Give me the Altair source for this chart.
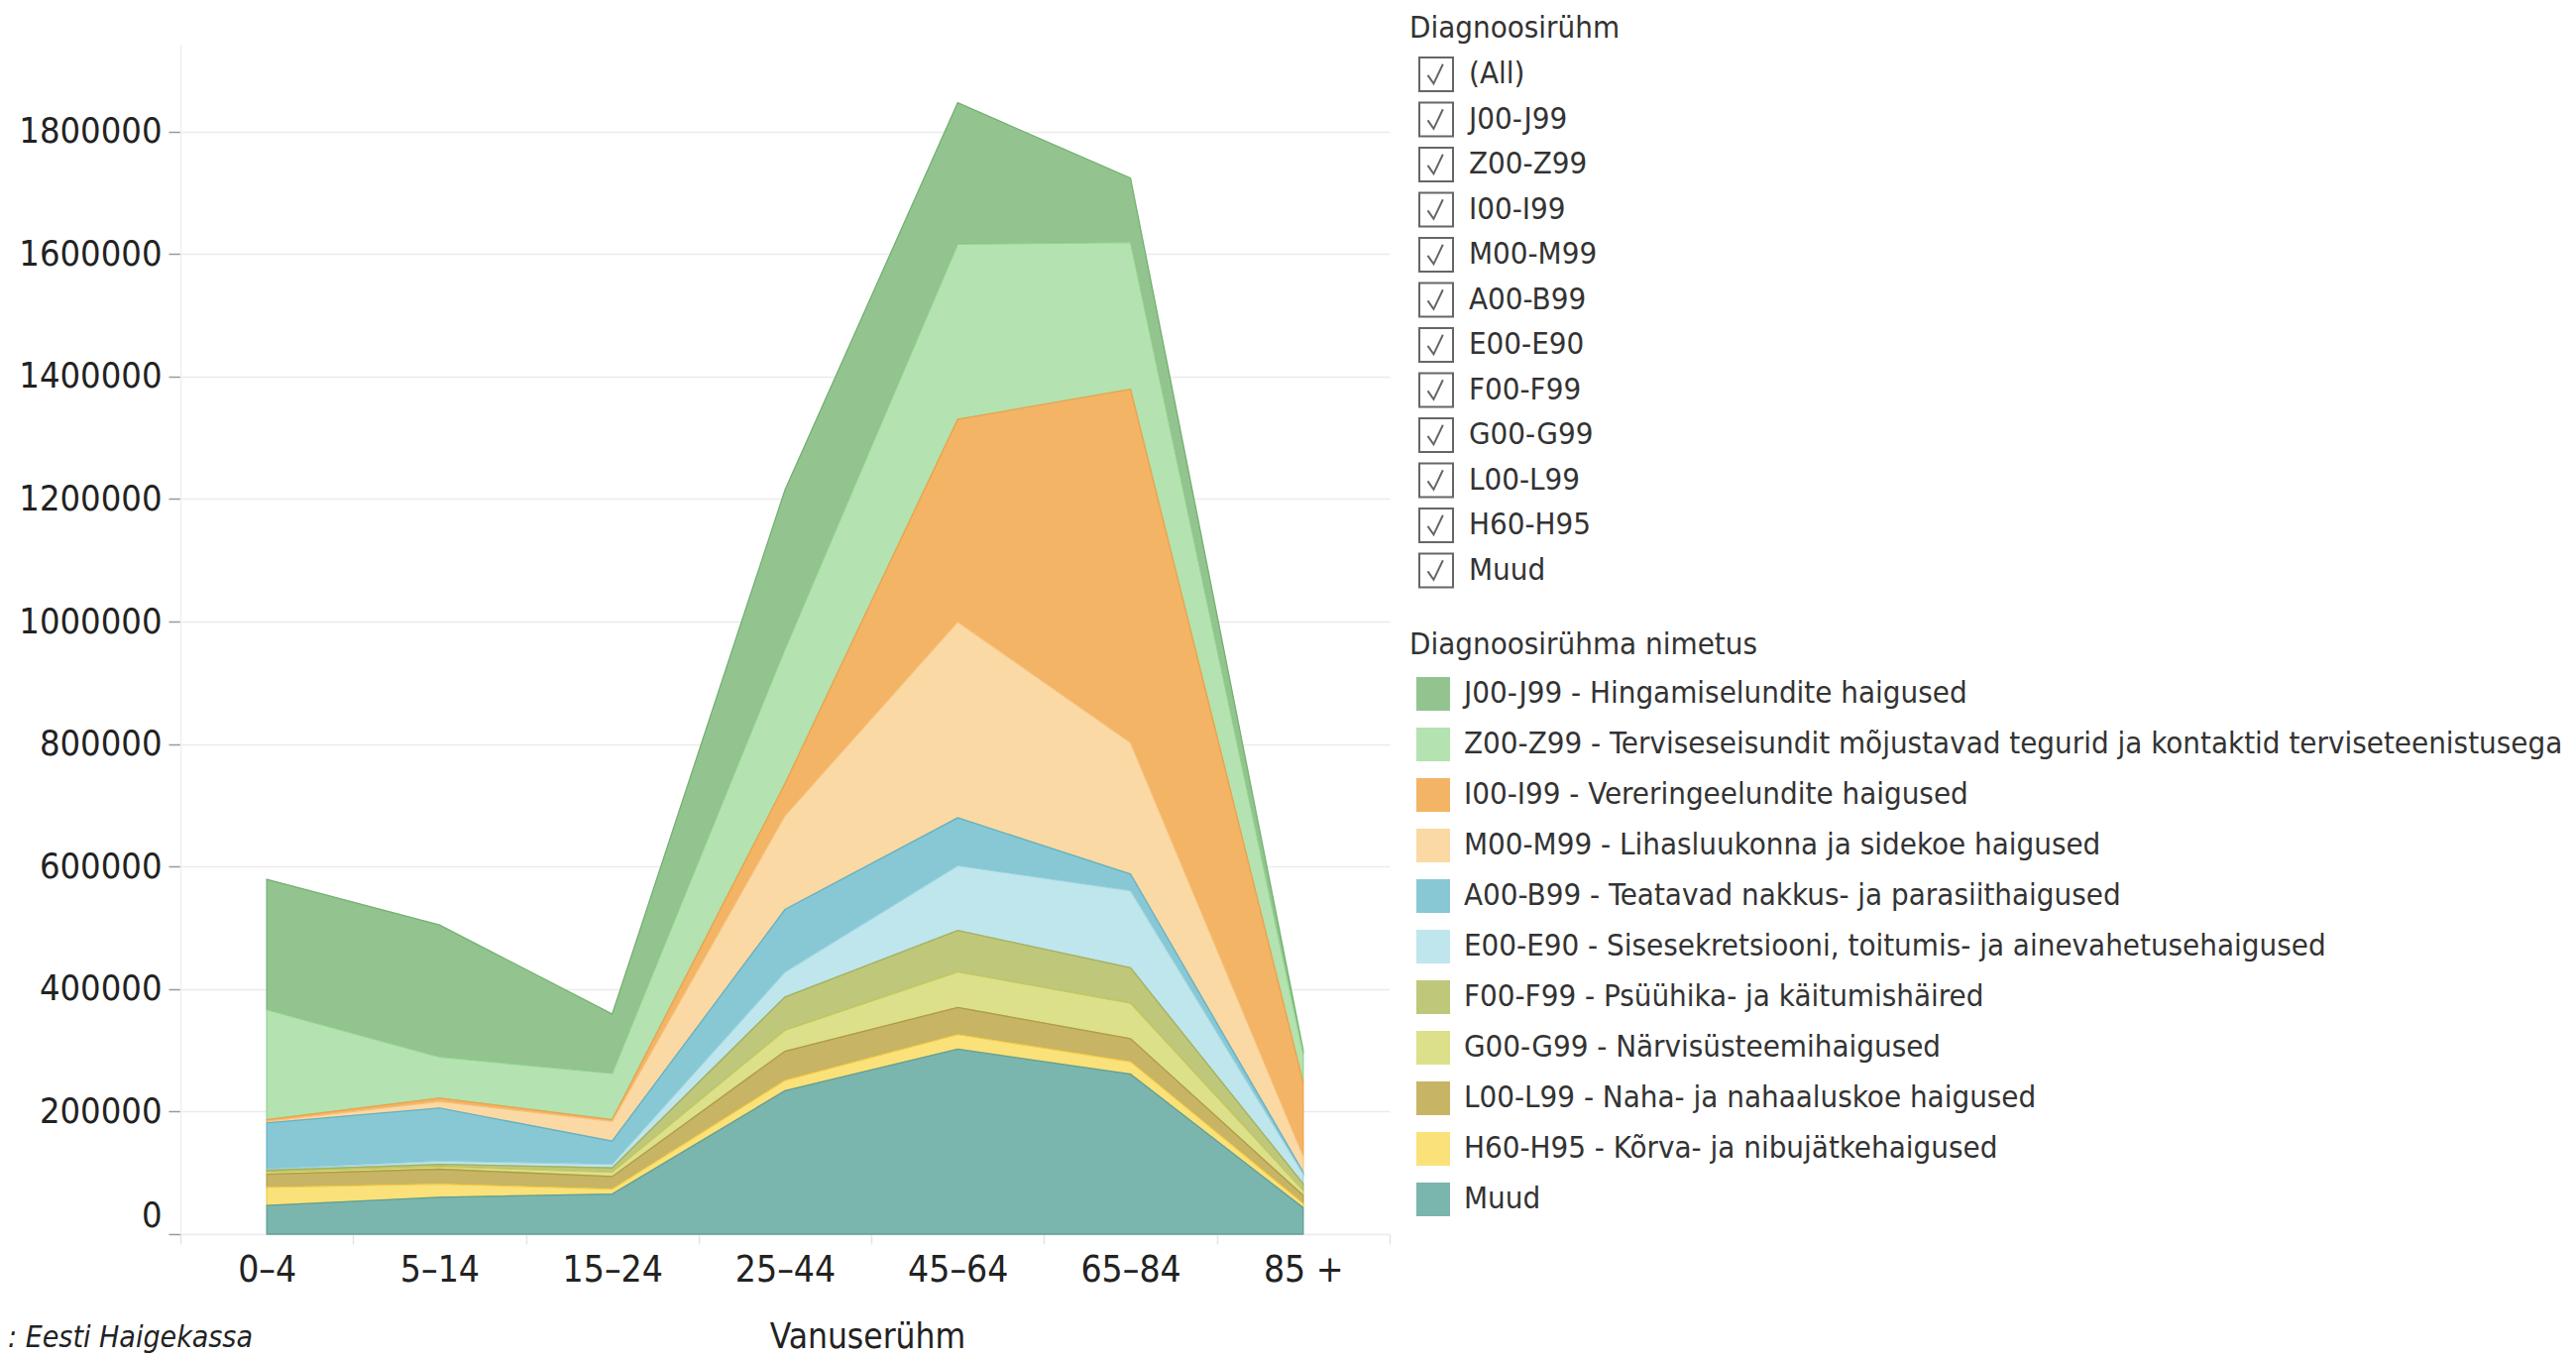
import altair as alt
import pandas as pd

FONT = "DejaVu Sans Condensed, Liberation Sans Narrow, DejaVu Sans, sans-serif"

ages = ["0–4", "5–14", "15–24", "25–44", "45–64", "65–84", "85 +"]

codes = ["J00-J99", "Z00-Z99", "I00-I99", "M00-M99", "A00-B99", "E00-E90",
         "F00-F99", "G00-G99", "L00-L99", "H60-H95", "Muud"]
filter_items = ["(All)"] + codes

names = [
    "J00-J99 - Hingamiselundite haigused",
    "Z00-Z99 - Terviseseisundit mõjustavad tegurid ja kontaktid terviseteenistusega",
    "I00-I99 - Vereringeelundite haigused",
    "M00-M99 - Lihasluukonna ja sidekoe haigused",
    "A00-B99 - Teatavad nakkus- ja parasiithaigused",
    "E00-E90 - Sisesekretsiooni, toitumis- ja ainevahetusehaigused",
    "F00-F99 - Psüühika- ja käitumishäired",
    "G00-G99 - Närvisüsteemihaigused",
    "L00-L99 - Naha- ja nahaaluskoe haigused",
    "H60-H95 - Kõrva- ja nibujätkehaigused",
    "Muud",
]

# values per age group (same order as ages)
J00 = [213000, 215700, 97000, 260000, 231100, 105000, 6000]
Z00 = [179400, 67300, 75500, 220000, 285900, 239700, 47000]
I00 = [2800, 5400, 2800, 52000, 330700, 577100, 120000]
M00 = [2600, 10700, 32300, 153000, 319800, 214400, 26000]
A00 = [75400, 86400, 37700, 102100, 78300, 27200, 3000]
E00 = [2000, 5300, 6000, 40800, 105400, 125900, 16000]
F00 = [3000, 4000, 7000, 54500, 68000, 57900, 11000]
G00 = [3200, 4000, 7000, 34100, 57900, 57800, 8000]
L00 = [21500, 24300, 20400, 47500, 44200, 37500, 13000]
H60 = [29700, 21600, 8100, 17000, 23900, 20400, 7000]
Muud = [46600, 60100, 65500, 234000, 301900, 261100, 43000]

series = [J00, Z00, I00, M00, A00, E00, F00, G00, L00, H60, Muud]

fill_colors = ["#93C490", "#B4E2B0", "#F3B466", "#FBD9A4", "#88C8D5", "#BFE6EC",
               "#BFC77B", "#DCE08A", "#C7B465", "#FAE17A", "#7AB5AE"]
line_colors = ["#72B16F", "#95D291", "#EFA24A", "#F6C27E", "#62B3C6", "#9CD4DE",
               "#A7B05A", "#C6CB5F", "#B09B47", "#EFCB48", "#5F9F98"]

y_ticks = [0, 200000, 400000, 600000, 800000, 1000000, 1200000, 1400000, 1600000, 1800000]

rows = []
n = len(series)
for i, (nm, vals) in enumerate(zip(names, series)):
    for a, v in zip(ages, vals):
        rows.append({"age": a, "name": nm, "value": v, "rank": n - 1 - i})
df = pd.DataFrame(rows)

CHECK = "M-1,-1H1V1H-1Z M-0.5,0.05 L-0.15,0.55 L0.4,-0.6"

areas = alt.Chart(df).mark_area(opacity=1, strokeWidth=1.3).encode(
    x=alt.X("age:N", sort=ages, bandPosition=0.5,
            scale=alt.Scale(type="band", domain=ages, paddingInner=0, paddingOuter=0),
            axis=alt.Axis(title="Vanuserühm", labelAngle=0, labelFontSize=37, labelColor="#222",
                          labelPadding=8, tickBand="extent", tickSize=10, tickColor="#e4e4e4",
                          tickWidth=1.5, domainColor="#eeeeee", domainWidth=1.5, grid=False,
                          titleFontSize=35, titleFontWeight="normal", titleColor="#222",
                          titlePadding=32, titleX=693)),
    y=alt.Y("value:Q", stack="zero",
            scale=alt.Scale(domain=[0, 1942000], nice=False, zero=True),
            axis=alt.Axis(title=None, values=y_ticks, format="d", labelFontSize=36,
                          labelColor="#222", labelPadding=7, tickSize=12, tickColor="#999",
                          tickWidth=1.5, domainColor="#f0f0f0", domainWidth=1.5,
                          gridColor="#ebebeb", gridWidth=1.5, labelFlush=True)),
    color=alt.Color("name:N", scale=alt.Scale(domain=names, range=fill_colors),
                    legend=alt.Legend(title="Diagnoosirühma nimetus", orient="none",
                                      legendX=1240, legendY=591, symbolType="square",
                                      symbolSize=1156, symbolOffset=7, labelOffset=14,
                                      labelFontSize=31, labelLimit=3000, labelColor="#333",
                                      titleFontSize=31, titleFontWeight="normal",
                                      titleColor="#333", titlePadding=16, rowPadding=17,
                                      symbolStrokeWidth=0, padding=0, titleLimit=3000,
                                      symbolOpacity=1)),
    stroke=alt.Stroke("name:N", scale=alt.Scale(domain=names, range=line_colors), legend=None),
    order=alt.Order("rank:Q", sort="ascending"),
)

checks = alt.Chart(pd.DataFrame({"code": filter_items})).transform_filter("false").mark_point(
    filled=False, color="#666666", strokeWidth=2, opacity=1
).encode(
    x=alt.value(0), y=alt.value(0),
    shape=alt.Shape("code:N", scale=alt.Scale(domain=filter_items, range=[CHECK] * len(filter_items)),
                    legend=alt.Legend(title="Diagnoosirühm", orient="none", legendX=1240,
                                      legendY=-31, symbolSize=1156, symbolOffset=9,
                                      labelOffset=15, labelFontSize=31, labelLimit=3000,
                                      labelColor="#333", titleFontSize=31, titleLimit=3000,
                                      titleFontWeight="normal", titleColor="#333",
                                      titlePadding=12, rowPadding=3.5, padding=0,
                                      symbolStrokeColor="#666666",
                                      symbolStrokeWidth=2, symbolOpacity=1)),
)

source = alt.Chart(pd.DataFrame({"t": [": Eesti Haigekassa"]})).mark_text(
    align="left", baseline="middle", fontSize=30, fontStyle="italic", color="#222"
).encode(x=alt.value(-174), y=alt.value(1305), text="t:N")

chart = alt.layer(areas, checks, source).properties(
    width=1220, height=1200,
    autosize=alt.AutoSizeParams(type="none"),
    padding={"left": 174, "top": 37, "right": 1189, "bottom": 124},
).configure(font=FONT).configure_view(strokeWidth=0)

chart.save("out.html", embed_options={"renderer": "svg", "actions": False})
